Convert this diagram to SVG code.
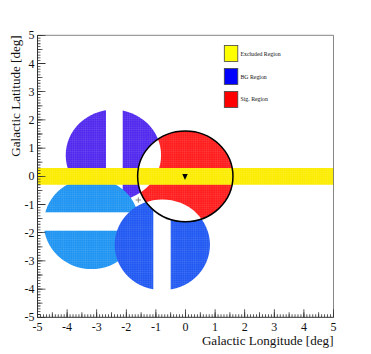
<svg xmlns="http://www.w3.org/2000/svg" width="371" height="354" viewBox="0 0 371 354">
<style>
.lbl{font-family:"Liberation Serif","Times New Roman",serif;font-size:12px;fill:#111}
.ttl{font-family:"Liberation Serif","Times New Roman",serif;font-size:13.1px;fill:#111}
.leg{font-family:"Liberation Serif","Times New Roman",serif;font-size:5.8px;fill:#111}
.tk{stroke:#333;fill:none}
.sw{stroke:#444;stroke-width:0.8}
</style>
<defs>
<pattern id="bins" patternUnits="userSpaceOnUse" x="37.5" y="35.3" width="2.2" height="2.2">
<path d="M2.2 0V2.2M0 2.2H2.2" stroke="#fff" stroke-width="0.5" stroke-opacity="0.22"/>
</pattern>
<mask id="mSig" maskUnits="userSpaceOnUse" x="0" y="0" width="371" height="354">
<rect width="371" height="354" fill="#fff"/>
<ellipse cx="113.4" cy="155.2" rx="47.66" ry="45.4" fill="#000"/>
<ellipse cx="162.3" cy="244.8" rx="47.66" ry="45.4" fill="#000"/>
</mask>
<mask id="mViolet" maskUnits="userSpaceOnUse" x="0" y="0" width="371" height="354">
<rect width="371" height="354" fill="#fff"/>
<ellipse cx="185.3" cy="176.3" rx="47.66" ry="45.4" fill="#000"/>
<rect x="106" y="0" width="16.7" height="354" fill="#000"/>
</mask>
<mask id="mLight" maskUnits="userSpaceOnUse" x="0" y="0" width="371" height="354">
<rect width="371" height="354" fill="#fff"/>
<ellipse cx="185.3" cy="176.3" rx="47.66" ry="45.4" fill="#000"/>
<rect x="0" y="212.3" width="371" height="18.4" fill="#000"/>
</mask>
<mask id="mBlue" maskUnits="userSpaceOnUse" x="0" y="0" width="371" height="354">
<rect width="371" height="354" fill="#fff"/>
<ellipse cx="185.3" cy="176.3" rx="47.66" ry="45.4" fill="#000"/>
<rect x="153.3" y="0" width="17.4" height="354" fill="#000"/>
</mask>
</defs>
<rect width="371" height="354" fill="#fff"/>

<g id="bg-region-1"><ellipse cx="113.4" cy="155.2" rx="47.66" ry="45.4" fill="#5028ee" mask="url(#mViolet)"/></g>
<g id="bg-region-2"><ellipse cx="91.5" cy="223.7" rx="47.66" ry="45.4" fill="#1e94f2" mask="url(#mLight)"/></g>
<g id="bg-region-3"><ellipse cx="162.3" cy="244.8" rx="47.66" ry="45.4" fill="#2058f2" mask="url(#mBlue)"/></g>
<g id="sig-region"><ellipse cx="185.3" cy="176.3" rx="47.66" ry="45.4" fill="#ff1c1c" mask="url(#mSig)"/></g>
<g id="excluded-region"><rect x="37.5" y="168" width="296" height="16.8" fill="#fcec00"/></g>
<rect x="37.5" y="35.3" width="296" height="282" fill="url(#bins)"/>

<g id="sig-outline"><ellipse cx="185.3" cy="176.3" rx="47.66" ry="45.4" fill="none" stroke="#000" stroke-width="1.5"/></g>
<g id="source"><path d="M182.3 174H187.7L185 180Z" fill="#000"/></g>
<g id="pointing"><path d="M135.6 200H141M138.3 197.3V202.7" stroke="#777" stroke-width="0.9"/></g>

<g id="frame">
<path d="M37.5 35.3H333.5V317.3" fill="none" stroke="#666" stroke-width="0.8"/>
<path d="M37.5 35.3V317.3H333.5" fill="none" stroke="#333" stroke-width="1"/>
<line class="tk" x1="37.1" y1="315.8" x2="334" y2="315.8" stroke-width="3" stroke-dasharray="0.8 2.16"/>
<line class="tk" x1="37.1" y1="314.8" x2="334" y2="314.8" stroke-width="5" stroke-dasharray="0.8 14"/>
<line class="tk" x1="37.1" y1="313.3" x2="334" y2="313.3" stroke-width="8" stroke-dasharray="0.8 28.8"/>
<line class="tk" x1="39" y1="317.7" x2="39" y2="34.8" stroke-width="3" stroke-dasharray="0.8 2.02"/>
<line class="tk" x1="40" y1="317.7" x2="40" y2="34.8" stroke-width="5" stroke-dasharray="0.8 13.3"/>
<line class="tk" x1="41.5" y1="317.7" x2="41.5" y2="34.8" stroke-width="8" stroke-dasharray="0.8 27.4"/>
</g>

<g id="x-labels" class="lbl" text-anchor="middle">
<text x="37.5" y="330.8">-5</text><text x="67.1" y="330.8">-4</text><text x="96.7" y="330.8">-3</text><text x="126.3" y="330.8">-2</text><text x="155.9" y="330.8">-1</text><text x="185.5" y="330.8">0</text><text x="215.1" y="330.8">1</text><text x="244.7" y="330.8">2</text><text x="274.3" y="330.8">3</text><text x="303.9" y="330.8">4</text><text x="333.5" y="330.8">5</text>
</g>
<g id="y-labels" class="lbl" text-anchor="end">
<text x="34.5" y="39.3">5</text><text x="34.5" y="67.5">4</text><text x="34.5" y="95.7">3</text><text x="34.5" y="123.9">2</text><text x="34.5" y="152.1">1</text><text x="34.5" y="180.3">0</text><text x="34.5" y="208.5">-1</text><text x="34.5" y="236.7">-2</text><text x="34.5" y="264.9">-3</text><text x="34.5" y="293.1">-4</text><text x="34.5" y="321.3">-5</text>
</g>
<text class="ttl" x="333.5" y="345" text-anchor="end">Galactic Longitude [deg]</text>
<text class="ttl" transform="translate(19.5 35.3) rotate(-90)" text-anchor="end">Galactic Latitude [deg]</text>

<g id="legend">
<rect class="sw" x="224.3" y="45.5" width="13.5" height="16" fill="#ffff00"/>
<text class="leg" x="240.5" y="55.5">Excluded Region</text>
<rect class="sw" x="224.3" y="68.5" width="13.5" height="16" fill="#0000ff"/>
<text class="leg" x="240.5" y="78.6">BG Region</text>
<rect class="sw" x="224.3" y="91.5" width="13.5" height="16" fill="#ff0000"/>
<text class="leg" x="240.5" y="101.4">Sig. Region</text>
</g>
</svg>
